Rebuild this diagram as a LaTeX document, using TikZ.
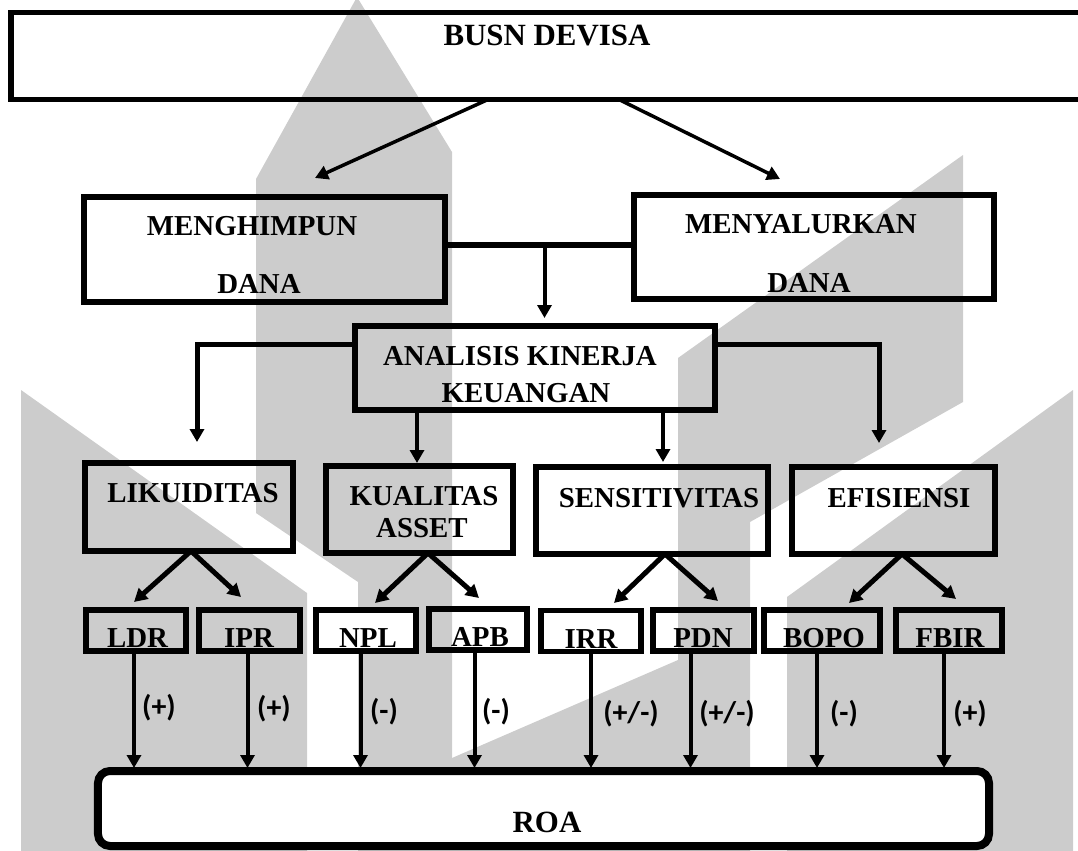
\documentclass[tikz,border=0pt]{standalone}
\usepackage{fontspec}
\setmainfont{Liberation Serif}
\newfontfamily\lblfont{Carlito}
\usetikzlibrary{arrows.meta}
\definecolor{wm}{RGB}{204,204,204}
\begin{document}
\begin{tikzpicture}[x=1bp,y=-1bp,
  box/.style={draw=black, line width=5.5bp, inner sep=0pt, outer sep=0pt, rectangle},
  tx/.style={font=\fontsize{29}{32}\selectfont\bfseries, inner sep=0pt, anchor=base},
  bigtx/.style={font=\fontsize{31}{34}\selectfont\bfseries, inner sep=0pt, anchor=base},
  lb/.style={font=\lblfont\bfseries\fontsize{30}{32}\selectfont, inner sep=0pt},
  arr/.style={-{Triangle[length=13bp,width=14bp]}, line width=4bp},
  link/.style={line width=6bp}]
\useasboundingbox (0,0) rectangle (1078,851);
\clip (0,0) rectangle (1078,851);
% watermark
\fill[wm] (357,-3) -- (452,152) -- (452,855) -- (358,855) -- (358,582) -- (256,513) -- (256,179) -- cycle;
\fill[wm] (21,390) -- (307,593) -- (307,855) -- (21,855) -- cycle;
\fill[wm] (963,155) -- (963,402) -- (750,522) -- (750,855) -- (678,855) -- (678,358) -- cycle;
\fill[wm] (1073,390) -- (1073,855) -- (787,855) -- (787,597) -- cycle;
\fill[wm] (452,758) -- (678,660) -- (678,855) -- (452,855) -- cycle;
% boxes
\node[box, minimum width=1089bp, minimum height=87bp] (busn) at (555.5,56) {};
\node[bigtx] (tbusn) at (547,45) {BUSN DEVISA};
\node[box, minimum width=361bp, minimum height=105bp] (mengh) at (264.5,249.5) {};
\node[tx] (tmengh1) at (252,235) {MENGHIMPUN};
\node[tx] (tmengh2) at (259,293) {DANA};
\node[box, minimum width=360bp, minimum height=104bp] (menya) at (814,247) {};
\node[tx] (tmenya1) at (801,233) {MENYALURKAN};
\node[tx] (tmenya2) at (809,292) {DANA};
\node[box, minimum width=360bp, minimum height=84bp] (anal) at (535,368) {};
\node[tx] (tanal1) at (520,365) {ANALISIS KINERJA};
\node[tx] (tanal2) at (526,402) {KEUANGAN};
\node[box, minimum width=208bp, minimum height=88bp] (liku) at (189,507) {};
\node[tx] (tliku) at (193,502) {LIKUIDITAS};
\node[box, minimum width=187bp, minimum height=87bp] (kual) at (419.5,509.5) {};
\node[tx] (tkual1) at (424,505) {KUALITAS};
\node[tx] (tkual2) at (422,537) {ASSET};
\node[box, minimum width=232bp, minimum height=87bp] (sens) at (652,510.5) {};
\node[tx] (tsens) at (659,507) {SENSITIVITAS};
\node[box, minimum width=203bp, minimum height=87bp] (efis) at (893.5,510.5) {};
\node[tx] (tefis) at (899,507) {EFISIENSI};
% small boxes
\node[box, minimum width=100bp, minimum height=41bp] (ldr) at (136,630.5) {};
\node[box, minimum width=101bp, minimum height=41bp] (ipr) at (249.5,630.5) {};
\node[box, fill=white, minimum width=100bp, minimum height=41bp] (npl) at (366,630.5) {};
\node[box, minimum width=98bp, minimum height=41bp] (apb) at (478,629.5) {};
\node[box, fill=white, minimum width=100bp, minimum height=41bp] (irr) at (591,631) {};
\node[box, minimum width=101bp, minimum height=41bp] (pdn) at (703.5,630.5) {};
\node[box, minimum width=116bp, minimum height=41bp] (bopo) at (822,630.5) {};
\node[box, minimum width=106bp, minimum height=41bp] (fbir) at (949,630.5) {};
\node[tx] (tldr) at (137.5,647) {LDR};
\node[tx] (tipr) at (249,647) {IPR};
\node[tx] (tnpl) at (368,647) {NPL};
\node[tx] (tapb) at (480,646) {APB};
\node[tx] (tirr) at (591,648) {IRR};
\node[tx] (tpdn) at (703,647) {PDN};
\node[tx] (tbopo) at (824,647) {BOPO};
\node[tx] (tfbir) at (950,647) {FBIR};
% ROA
\node[box, line width=8bp, rounded corners=12bp, fill=white, minimum width=891bp, minimum height=75bp] (roa) at (543.5,808.5) {};
\node[bigtx] (troa) at (547,832) {ROA};
% connectors top
\coordinate (pm) at (315,178);
\coordinate (py) at (780,179);
\draw[arr, line width=3.5bp] (busn.south -| 488,0) -- (pm);
\draw[arr, line width=3.5bp] (busn.south -| 619,0) -- (py);
\coordinate (j) at (544.5,245);
\draw[link] (mengh.east |- j) -- (menya.west |- j);
\draw[arr, shorten >=8bp] (j) -- (j |- anal.north);
% branches
\coordinate (cl) at (197,344);
\coordinate (cr) at (879,344);
\draw[arr, line width=5bp] (anal.west |- cl) -- (cl) -- ([yshift=21bp]cl |- liku.north);
\draw[arr, line width=5bp] (anal.east |- cr) -- (cr) -- ([yshift=24bp]cr |- efis.north);
\draw[arr, line width=4.5bp, shorten >=3bp] (anal.south -| 417,0) -- (kual.north -| 417,0);
\draw[arr, line width=4.5bp, shorten >=5bp] (anal.south -| 663,0) -- (sens.north -| 663,0);
% diagonals
\coordinate (aLDR) at (134,602);
\coordinate (aIPR) at (241,597);
\coordinate (aNPL) at (375,603);
\coordinate (aAPB) at (479,598);
\coordinate (aIRR) at (614,603);
\coordinate (aPDN) at (718,601);
\coordinate (aBOPO) at (849,603);
\coordinate (aFBIR) at (956,599);
\draw[arr, line width=5bp] (liku.south -| 191,0) -- (aLDR);
\draw[arr, line width=5bp] (liku.south -| 191,0) -- (aIPR);
\draw[arr, line width=5bp] (kual.south -| 428,0) -- (aNPL);
\draw[arr, line width=5bp] (kual.south -| 428,0) -- (aAPB);
\draw[arr, line width=5bp] (sens.south -| 665,0) -- (aIRR);
\draw[arr, line width=5bp] (sens.south -| 665,0) -- (aPDN);
\draw[arr, line width=5bp] (efis.south -| 902,0) -- (aBOPO);
\draw[arr, line width=5bp] (efis.south -| 902,0) -- (aFBIR);
% verticals to ROA
\foreach \n/\x in {ldr/134, ipr/247.5, npl/360.5, apb/474.5, irr/591, pdn/690.5, bopo/817, fbir/944}
  \draw[arr, shorten >=3bp] (\n.south -| \x,0) -- (roa.north -| \x,0);
% labels
\node[lb] (l1) at (159,708) {(+)};
\node[lb] (l2) at (274,709) {(+)};
\node[lb] (l3) at (384,712) {(-)};
\node[lb] (l4) at (496,712) {(-)};
\node[lb] (l5) at (631,714) {(+/-)};
\node[lb] (l6) at (727,714) {(+/-)};
\node[lb] (l7) at (844,714) {(-)};
\node[lb] (l8) at (970,714) {(+)};
\end{tikzpicture}
\end{document}
